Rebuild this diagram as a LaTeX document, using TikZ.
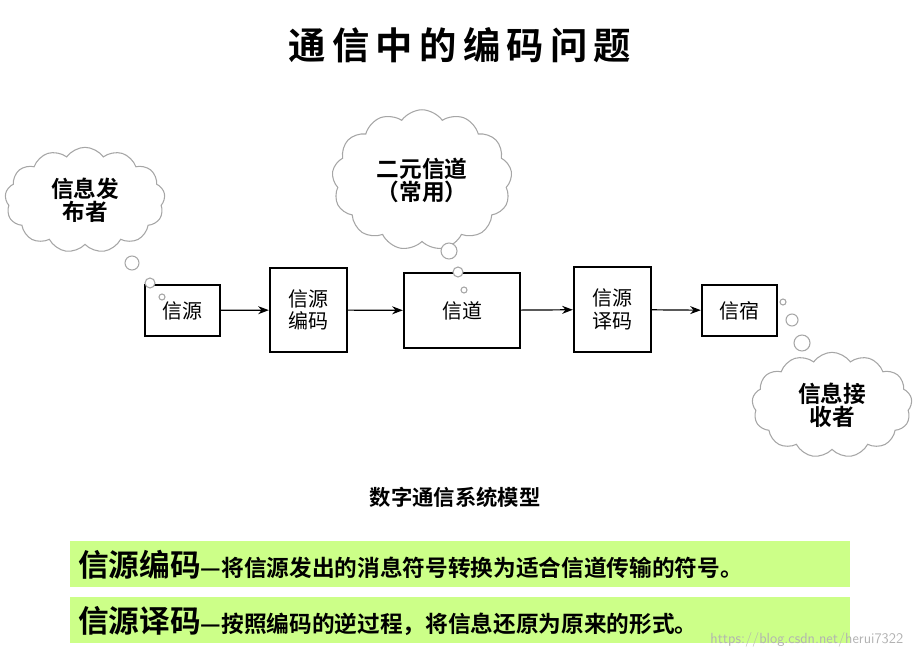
\documentclass[tikz,border=0pt]{standalone}
\usepackage{fontspec}
\newfontfamily\cjk{Noto Sans CJK SC}
\newfontfamily\cjkb{Noto Sans CJK SC Bold}
\usetikzlibrary{shapes.symbols,arrows.meta}
\definecolor{bar}{HTML}{CCFF88}
\tikzset{
 blk/.style={draw,line width=1.8pt,align=center,font=\cjk\fontsize{15}{17}\selectfont},
 arr/.style={-{Stealth[length=8pt]},line width=0.9pt},
 cl/.style={cloud,cloud puffs=13,cloud puff arc=110,draw=gray!70,line width=0.8pt,align=center,font=\cjkb\fontsize{17}{15}\selectfont,inner sep=0pt},
 bub/.style={draw=gray!70,line width=0.8pt,fill=white},
}
\begin{document}
\begin{tikzpicture}[x=0.75pt,y=-0.75pt]
\useasboundingbox (0,0) rectangle (916,659);
\node[font=\cjkb\fontsize{28}{30}\selectfont] (title) at (460,45) {通\,信\,中\,的\,编\,码\,问\,题};
\node[blk,minimum width=56.25pt,minimum height=38.25pt] (a) at (182.5,310.5) {信源};
\node[blk,minimum width=57.75pt,minimum height=63pt] (b) at (308.5,310) {信源\\编码};
\node[blk,minimum width=87pt,minimum height=56.25pt] (c) at (462,310.5) {信道};
\node[blk,minimum width=57.75pt,minimum height=63.75pt] (d) at (612.5,309.5) {信源\\译码};
\node[blk,minimum width=56.25pt,minimum height=38.25pt] (e) at (739.5,310.5) {信宿};
\draw[arr] (a) -- (b); \draw[arr] (b) -- (c); \draw[arr] (c) -- (d); \draw[arr] (d) -- (e);
\node[cl,minimum width=120pt,minimum height=70pt] (c1) at (85,200) {信息发\\布者};
\node[cl,minimum width=135pt,minimum height=68pt] (c2) at (422,180) {二元信道\\（常用）};
\node[cl,minimum width=120pt,minimum height=70pt] (c3) at (832,405) {信息接\\收者};
\draw[bub] (132,263) circle (7); \draw[bub] (150,283) circle (5); \draw[bub] (162,297) circle (3);
\draw[bub] (449,251) circle (8); \draw[bub] (458,272) circle (5); \draw[bub] (464,290) circle (3);
\draw[bub] (783,302) circle (3); \draw[bub] (792,320) circle (6); \draw[bub] (802,343) circle (8);
\node[font=\cjkb\fontsize{16}{17}\selectfont] (cap) at (455,497) {数字通信系统模型};
\fill[bar] (70,541) rectangle (850,587);
\fill[bar] (70,597) rectangle (850,643);
\node[anchor=west,inner sep=0pt] (t1) at (78,565) {\cjkb\fontsize{23}{25}\selectfont 信源编码\fontsize{17}{19}\selectfont —将信源发出的消息符号转换为适合信道传输的符号。};
\node[anchor=west,inner sep=0pt] (t2) at (78,621) {\cjkb\fontsize{23}{25}\selectfont 信源译码\fontsize{17}{19}\selectfont —按照编码的逆过程，将信息还原为原来的形式。};
\node[anchor=east,text=gray!60,font=\sffamily\fontsize{11}{12}\selectfont] (wm) at (908,640) {https://blog.csdn.net/herui7322};
\end{tikzpicture}
\end{document}
